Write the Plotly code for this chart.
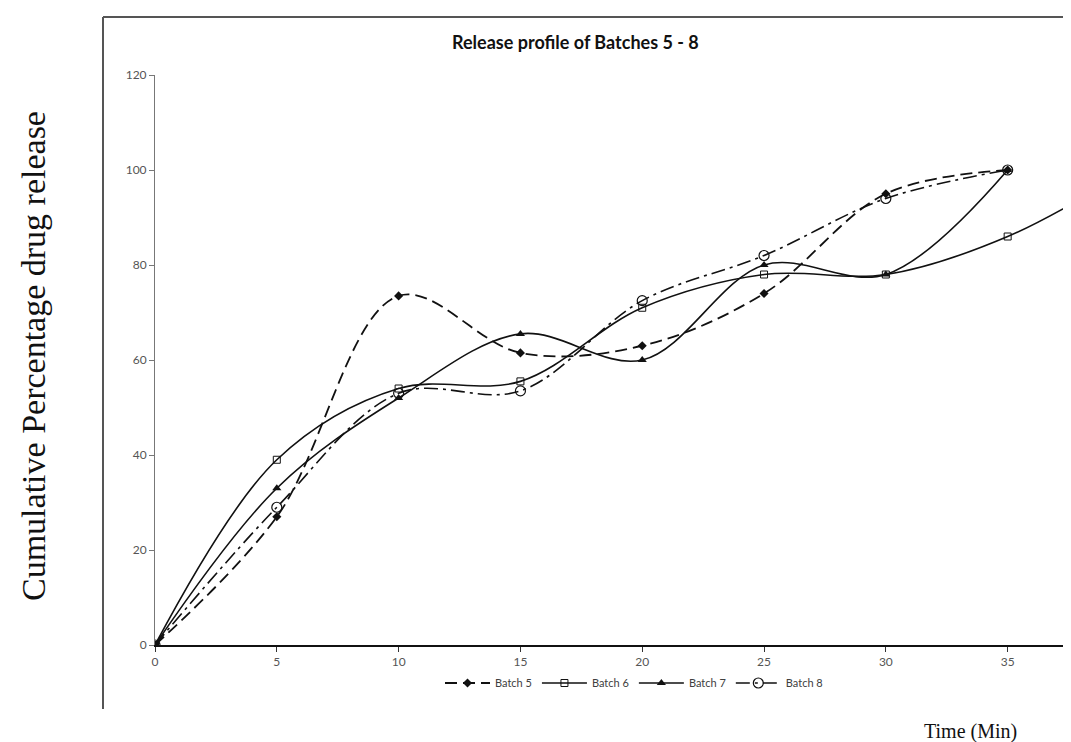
import plotly.graph_objects as go

# Data
time_min = [0, 5, 10, 15, 20, 25, 30, 35]
time_min_b6 = [0, 5, 10, 15, 20, 25, 30, 35, 40]
batch5 = [0, 27, 73.5, 61.5, 63, 74, 95, 100]
batch6 = [0, 39, 54, 55.5, 71, 78, 78, 86, 100]
batch7 = [0, 33, 52, 65.5, 60, 80, 78, 100]
batch8 = [0, 29, 53, 53.5, 72.5, 82, 94, 100]
x_ticks = [0, 5, 10, 15, 20, 25, 30, 35]
y_ticks = [0, 20, 40, 60, 80, 100, 120]

title_text = "Release profile of Batches 5 - 8"
y_title = "Cumulative Percentage drug release"
x_title = "Time (Min)"

OFF = 8  # page body margin
W, H = 1071 - OFF, 742 - OFF
L, T = 155 - OFF, 75 - OFF
R = 0
B = H - (645 - OFF)
pw, ph = W - L - R, H - T - B


def px_x(p):
    return (p - OFF - L) / pw


def px_y(p):
    return (H - B - (p - OFF)) / ph


fig = go.Figure()
ink = "#111111"
fig.add_trace(go.Scatter(
    x=time_min, y=batch5, name="Batch 5", mode="lines+markers",
    line=dict(color=ink, width=1.8, dash="12px,6px", shape="spline", smoothing=1),
    marker=dict(symbol="diamond", size=7, color=ink),
))
fig.add_trace(go.Scatter(
    x=time_min_b6, y=batch6, name="Batch 6", mode="lines+markers",
    line=dict(color=ink, width=1.6, shape="spline", smoothing=1),
    marker=dict(symbol="square-open", size=7, color=ink, line=dict(width=1)),
))
fig.add_trace(go.Scatter(
    x=time_min, y=batch7, name="Batch 7", mode="lines+markers",
    line=dict(color=ink, width=1.6, shape="spline", smoothing=1),
    marker=dict(symbol="triangle-up", size=8, color=ink),
))
fig.add_trace(go.Scatter(
    x=time_min, y=batch8, name="Batch 8", mode="lines+markers",
    line=dict(color=ink, width=1.6, dash="14px,5px,3px,5px", shape="spline", smoothing=1),
    marker=dict(symbol="circle-open", size=10, color=ink, line=dict(width=1.2)),
))

fig.update_layout(
    width=W, height=H,
    margin=dict(l=L, r=R, t=T, b=B),
    paper_bgcolor="white", plot_bgcolor="white",
    showlegend=True,
    legend=dict(
        orientation="h", x=px_x(634), xanchor="center", y=px_y(683), yanchor="middle",
        font=dict(family="Lato", size=11, color="#404040"),
        bgcolor="rgba(0,0,0,0)", itemwidth=45, tracegroupgap=0,
    ),
    xaxis=dict(
        range=[0, 37.6], tickvals=x_ticks, showgrid=False, zeroline=False,
        showline=True, linecolor="#111111", linewidth=2,
        ticks="outside", ticklen=5, tickcolor="#333333",
        tickfont=dict(family="Lato", size=12, color="#555555"),
    ),
    yaxis=dict(
        range=[0, 120], tickvals=y_ticks, showgrid=False, zeroline=False,
        showline=True, linecolor="#777777", linewidth=1,
        ticks="outside", ticklen=5, tickcolor="#777777",
        tickfont=dict(family="Lato", size=12, color="#555555"),
    ),
    annotations=[
        dict(text="<b>" + title_text + "</b>", xref="paper", yref="paper",
             x=px_x(575), y=px_y(42), xanchor="center", yanchor="middle",
             showarrow=False, font=dict(family="Lato", size=18, color="#111111")),
        dict(text=y_title, xref="paper", yref="paper", textangle=-90,
             x=px_x(33), y=px_y(356), xanchor="center", yanchor="middle",
             showarrow=False, font=dict(family="Liberation Serif", size=34, color="#111111")),
        dict(text=x_title, xref="paper", yref="paper",
             x=px_x(970), y=px_y(731), xanchor="center", yanchor="middle",
             showarrow=False, font=dict(family="Liberation Serif", size=20, color="#111111")),
    ],
    shapes=[
        dict(type="line", xref="paper", yref="paper", x0=px_x(103), x1=1.0,
             y0=px_y(17), y1=px_y(17), line=dict(color="#555555", width=2)),
        dict(type="line", xref="paper", yref="paper", x0=px_x(103), x1=px_x(103),
             y0=px_y(17), y1=px_y(709), line=dict(color="#555555", width=2)),
    ],
)

fig.write_html("out.html")
